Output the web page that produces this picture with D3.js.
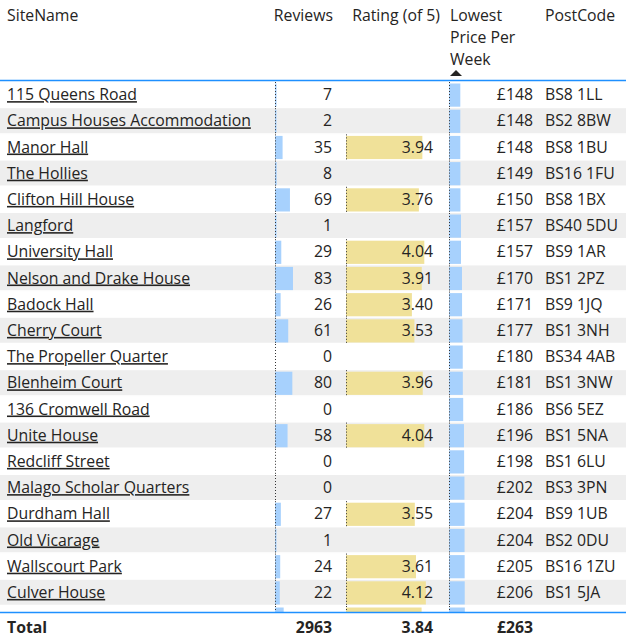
<!DOCTYPE html><html><head><meta charset="utf-8"><script src="https://cdn.jsdelivr.net/npm/d3@7"></script>
<style>body{margin:0;background:#fff}text{font-family:"Segoe UI","Open Sans",sans-serif}</style></head><body><svg id="c" width="636" height="637"></svg>
<script>
const names=["115 Queens Road","Campus Houses Accommodation","Manor Hall","The Hollies","Clifton Hill House","Langford","University Hall","Nelson and Drake House","Badock Hall","Cherry Court","The Propeller Quarter","Blenheim Court","136 Cromwell Road","Unite House","Redcliff Street","Malago Scholar Quarters","Durdham Hall","Old Vicarage","Wallscourt Park","Culver House","Goldney Hall"];
const reviews=[7,2,35,8,69,1,29,83,26,61,0,80,0,58,0,0,27,1,24,22,40];
const ratings=[null,null,3.94,null,3.76,null,4.04,3.91,3.40,3.53,null,3.96,null,4.04,null,null,3.55,null,3.61,4.12,3.90];
const prices=[148,148,148,149,150,157,157,170,171,177,180,181,186,196,198,202,204,204,205,206,207];
const postcodes=["BS8 1LL","BS2 8BW","BS8 1BU","BS16 1FU","BS8 1BX","BS40 5DU","BS9 1AR","BS1 2PZ","BS9 1JQ","BS1 3NH","BS34 4AB","BS1 3NW","BS6 5EZ","BS1 5NA","BS1 6LU","BS3 3PN","BS9 1UB","BS2 0DU","BS16 1ZU","BS1 5JA","BS8 3AN"];
const totals={reviews:"2963",rating:"3.84",price:"£263"};
const svg=d3.select("#c");
const rowH=26.2, top0=82;
const y=d3.scaleLinear().domain([0,1]).range([top0,top0+rowH]);
const xRev=d3.scaleLinear().domain([0,300]).range([275,340]);
const xRat=d3.scaleLinear().domain([0,4.85]).range([346,440]);
const xPri=d3.scaleLinear().domain([0,1100]).range([449,533]);
svg.append("clipPath").attr("id","cp").append("rect").attr("x",0).attr("y",top0).attr("width",636).attr("height",612-top0);
const body=svg.append("g").attr("clip-path","url(#cp)");
const fs="15.8px", col="#252423";
names.forEach((n,i)=>{
  const y0=y(i), g=body.append("g");
  g.append("rect").attr("x",0).attr("y",y0).attr("width",626).attr("height",rowH).attr("fill",i%2?"#eeeeee":"#fff");
  g.append("line").attr("x1",0).attr("x2",626).attr("y1",y0+rowH-0.5).attr("y2",y0+rowH-0.5).attr("stroke","#fff").attr("stroke-width",1.5);
  const by=y0+1.5,bh=rowH-3;
  if(reviews[i]>0)g.append("rect").attr("x",xRev(0)).attr("y",by).attr("width",Math.max(1.5,xRev(reviews[i])-xRev(0))).attr("height",bh).attr("fill","#a7d1fd");
  g.append("line").attr("x1",275.5).attr("x2",275.5).attr("y1",y0).attr("y2",y0+rowH).attr("stroke","#333").attr("stroke-dasharray","1,2");
  if(ratings[i]!=null){
    g.append("rect").attr("x",xRat(0)).attr("y",by).attr("width",xRat(ratings[i])-xRat(0)).attr("height",bh).attr("fill","#f0e199");
    g.append("line").attr("x1",346.5).attr("x2",346.5).attr("y1",y0).attr("y2",y0+rowH).attr("stroke","#333").attr("stroke-dasharray","1,2");
    g.append("text").attr("x",433).attr("y",y0+rowH/2+5).attr("text-anchor","end").attr("font-size",fs).attr("fill",col).text(ratings[i].toFixed(2));
  }
  g.append("rect").attr("x",xPri(0)).attr("y",by).attr("width",xPri(prices[i])-xPri(0)).attr("height",bh).attr("fill","#a7d1fd");
  g.append("line").attr("x1",449.5).attr("x2",449.5).attr("y1",y0).attr("y2",y0+rowH).attr("stroke","#333").attr("stroke-dasharray","1,2");
  g.append("text").attr("x",7).attr("y",y0+rowH/2+5).attr("font-size",fs).attr("fill",col).attr("text-decoration","underline").text(n);
  g.append("text").attr("x",332).attr("y",y0+rowH/2+5).attr("text-anchor","end").attr("font-size",fs).attr("fill",col).text(reviews[i]);
  g.append("text").attr("x",533).attr("y",y0+rowH/2+5).attr("text-anchor","end").attr("font-size",fs).attr("fill",col).text("£"+prices[i]);
  g.append("text").attr("x",545).attr("y",y0+rowH/2+5).attr("font-size",fs).attr("fill",col).text(postcodes[i]);
});
const hdr=[["SiteName",7,"start"],["Reviews",333,"end"],["Rating (of 5)",440,"end"],["PostCode",545,"start"]];
hdr.forEach(h=>svg.append("text").attr("x",h[1]).attr("y",21).attr("text-anchor",h[2]).attr("font-size",fs).attr("fill",col).text(h[0]));
["Lowest","Price Per","Week"].forEach((t,k)=>svg.append("text").attr("x",450).attr("y",21+k*22).attr("font-size",fs).attr("fill",col).text(t));
svg.append("path").attr("d","M450,76 L456,70 L462,76 Z").attr("fill","#252423");
svg.append("line").attr("x1",0).attr("x2",626).attr("y1",80.5).attr("y2",80.5).attr("stroke","#1e90ff").attr("stroke-width",1.5);
svg.append("line").attr("x1",0).attr("x2",626).attr("y1",612.5).attr("y2",612.5).attr("stroke","#1e90ff").attr("stroke-width",1.5);
const ty=633;
svg.append("text").attr("x",7).attr("y",ty).attr("font-size",fs).attr("font-weight","bold").attr("fill",col).text("Total");
svg.append("text").attr("x",332).attr("y",ty).attr("text-anchor","end").attr("font-size",fs).attr("font-weight","bold").attr("fill",col).text(totals.reviews);
svg.append("text").attr("x",433).attr("y",ty).attr("text-anchor","end").attr("font-size",fs).attr("font-weight","bold").attr("fill",col).text(totals.rating);
svg.append("text").attr("x",497).attr("y",ty).attr("text-anchor","start").attr("font-size",fs).attr("font-weight","bold").attr("fill",col).text(totals.price);
</script></body></html>
